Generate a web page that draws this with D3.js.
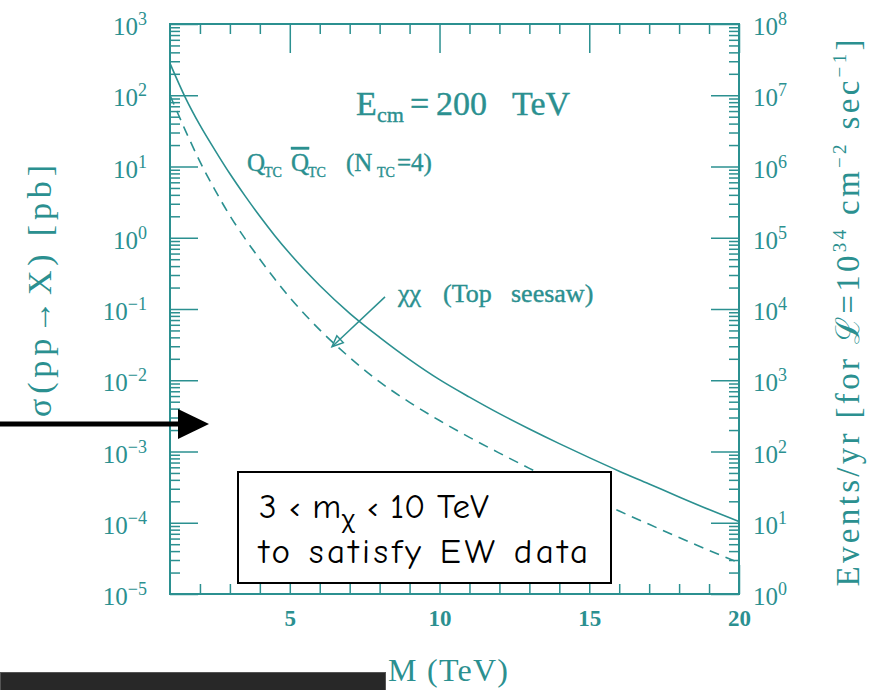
<!DOCTYPE html>
<html>
<head>
<meta charset="utf-8">
<script src="https://cdn.jsdelivr.net/npm/d3@7"></script>
<style>
  body { margin: 0; background: #fff; }
  svg { display: block; }
</style>
</head>
<body>
<div id="chart"></div>
<script>
// resonance mass M in TeV
const mass = [1, 1.5, 2, 2.5, 3, 3.5, 4, 4.5, 5, 6, 7, 8, 9, 10, 11, 12, 13, 14, 15, 16, 17, 18, 19, 20];
// sigma(pp -> X) in pb, Q_TC Qbar_TC (N_TC = 4), solid
const sigma_qtc = [280, 95, 38, 17, 7.9, 3.9, 2.0, 1.07, 0.60, 0.214, 0.087, 0.040, 0.0195, 0.0102, 0.0058,
  0.0034, 0.00207, 0.00129, 0.00082, 0.00053, 0.00035, 0.00023, 0.000153, 0.000104];
// sigma(pp -> X) in pb, chi chi (top seesaw), dashed
const sigma_chi = [100, 33, 11.7, 4.7, 2.04, 0.98, 0.50, 0.263, 0.145, 0.051, 0.0209, 0.0095, 0.0049, 0.00272,
  0.00158, 0.00095, 0.00058, 0.00036, 0.00023, 0.000146, 0.000095, 0.000062, 0.000041, 0.0000275];
const x_major_ticks = [5, 10, 15, 20];
const x_minor_ticks = [2, 3, 4, 6, 7, 8, 9, 11, 12, 13, 14, 16, 17, 18, 19];
const left_exponents = [-5, -4, -3, -2, -1, 0, 1, 2, 3];
const right_exponents = [0, 1, 2, 3, 4, 5, 6, 7, 8];

function XsecPlotter() {
  this._left = 170;
  this._top = 24;
  this._right = 739;
  this._bottom = 594;
  this._major_len = 28;
  this._minor_len = 10;
  this._ink = '#2b9090';
  this._serif = '"Liberation Serif", "Times New Roman", serif';
}

XsecPlotter.prototype._minor_values = function(exps) {
  let out = [];
  for(let e of exps.slice(0, -1)) {
    for(let m = 2; m < 10; m++) {
      out.push(m * Math.pow(10, e));
    }
  }
  return out;
}

XsecPlotter.prototype._power_labels = function(g, anchor) {
  let self = this;
  g.selectAll('.tick text').each(function(d) {
    let t = d3.select(this);
    let e = Math.round(Math.log10(d));
    t.text(null)
      .attr('fill', self._ink)
      .attr('font-family', self._serif)
      .attr('font-size', '25px')
      .attr('text-anchor', anchor)
      .attr('dy', '0.42em');
    t.append('tspan').text('10');
    t.append('tspan')
      .attr('dy', '-0.55em')
      .attr('font-size', '18px')
      .text(e < 0 ? '\u2212' + (-e) : String(e));
  });
}

XsecPlotter.prototype._style_ticks = function(g) {
  g.select('.domain').remove();
  g.selectAll('.tick line').attr('stroke', this._ink).attr('stroke-width', 1.5);
}

XsecPlotter.prototype._axes = function(svg, x, yl, yr) {
  let pow = e => Math.pow(10, e);

  let gl = svg.append('g').attr('transform', 'translate(' + this._left + ',0)')
    .call(d3.axisLeft(yl).tickValues(left_exponents.map(pow)).tickSizeInner(-this._major_len).tickSizeOuter(0).tickPadding(23));
  this._style_ticks(gl);
  this._power_labels(gl, 'end');
  let gl2 = svg.append('g').attr('transform', 'translate(' + this._left + ',0)')
    .call(d3.axisLeft(yl).tickValues(this._minor_values(left_exponents)).tickSizeInner(-this._minor_len).tickSizeOuter(0).tickFormat(''));
  this._style_ticks(gl2);

  let gr = svg.append('g').attr('transform', 'translate(' + this._right + ',0)')
    .call(d3.axisRight(yr).tickValues(right_exponents.map(pow)).tickSizeInner(-this._major_len).tickSizeOuter(0).tickPadding(14));
  this._style_ticks(gr);
  this._power_labels(gr, 'start');
  let gr2 = svg.append('g').attr('transform', 'translate(' + this._right + ',0)')
    .call(d3.axisRight(yr).tickValues(this._minor_values(right_exponents)).tickSizeInner(-this._minor_len).tickSizeOuter(0).tickFormat(''));
  this._style_ticks(gr2);

  let gb = svg.append('g').attr('transform', 'translate(0,' + this._bottom + ')')
    .call(d3.axisBottom(x).tickValues(x_major_ticks).tickSizeInner(-this._major_len - 1).tickSizeOuter(0).tickPadding(16));
  this._style_ticks(gb);
  gb.selectAll('.tick text')
    .attr('fill', this._ink)
    .attr('font-family', this._serif)
    .attr('font-weight', 'bold')
    .attr('font-size', '23px');
  let gb2 = svg.append('g').attr('transform', 'translate(0,' + this._bottom + ')')
    .call(d3.axisBottom(x).tickValues(x_minor_ticks).tickSizeInner(-this._minor_len).tickSizeOuter(0).tickFormat(''));
  this._style_ticks(gb2);

  let gt = svg.append('g').attr('transform', 'translate(0,' + this._top + ')')
    .call(d3.axisTop(x).tickValues(x_major_ticks).tickSizeInner(-this._major_len - 1).tickSizeOuter(0).tickFormat(''));
  this._style_ticks(gt);
  let gt2 = svg.append('g').attr('transform', 'translate(0,' + this._top + ')')
    .call(d3.axisTop(x).tickValues(x_minor_ticks).tickSizeInner(-this._minor_len).tickSizeOuter(0).tickFormat(''));
  this._style_ticks(gt2);

  svg.append('rect')
    .attr('x', this._left).attr('y', this._top)
    .attr('width', this._right - this._left).attr('height', this._bottom - this._top)
    .attr('fill', 'none').attr('stroke', this._ink).attr('stroke-width', 2);
}

XsecPlotter.prototype._curves = function(svg, x, yl) {
  let line = d3.line()
    .x((d, i) => x(mass[i]))
    .y(d => yl(d))
    .curve(d3.curveMonotoneX);

  svg.append('path').datum(sigma_qtc)
    .attr('d', line).attr('fill', 'none')
    .attr('stroke', this._ink).attr('stroke-width', 1.6);
  svg.append('path').datum(sigma_chi)
    .attr('d', line).attr('fill', 'none')
    .attr('stroke', this._ink).attr('stroke-width', 1.6)
    .attr('stroke-dasharray', '10,7');
}

// text made of pieces placed at given x, with optional subscript shift
XsecPlotter.prototype._pieces = function(svg, y, size, parts) {
  let t = svg.append('text')
    .attr('y', y).attr('fill', this._ink)
    .attr('stroke', this._ink).attr('stroke-width', 0.4)
    .attr('font-family', this._serif).attr('font-size', size + 'px');
  for(let p of parts) {
    let s = t.append('tspan').attr('x', p.x).attr('y', y + (p.dy || 0)).text(p.t);
    if(p.size) s.attr('font-size', p.size + 'px');
    if(p.over) s.attr('text-decoration', 'overline');
  }
  return t;
}

XsecPlotter.prototype._labels = function(svg, x, yl) {
  let ink = this._ink;
  let serif = this._serif;

  svg.append('text')
    .attr('transform', 'translate(51,291) rotate(-90)')
    .attr('text-anchor', 'middle').attr('fill', ink)
    .attr('font-family', serif).attr('font-size', '34px')
    .attr('textLength', 252).attr('lengthAdjust', 'spacing')
    .text('\u03c3(pp\u2192X) [pb]');

  let rt = svg.append('text')
    .attr('transform', 'translate(859,313) rotate(-90)')
    .attr('text-anchor', 'middle').attr('fill', ink)
    .attr('font-family', serif).attr('font-size', '33px')
    .attr('textLength', 547).attr('lengthAdjust', 'spacing');
  rt.append('tspan').text('Events/yr [for \u2112=10');
  rt.append('tspan').attr('dy', -13).attr('font-size', '19px').text('34');
  rt.append('tspan').attr('dy', 13).text(' cm');
  rt.append('tspan').attr('dy', -13).attr('font-size', '19px').text('\u22122');
  rt.append('tspan').attr('dy', 13).text(' sec');
  rt.append('tspan').attr('dy', -13).attr('font-size', '19px').text('\u22121');
  rt.append('tspan').attr('dy', 13).text(']');

  svg.append('text')
    .attr('x', 448).attr('y', 681)
    .attr('text-anchor', 'middle').attr('fill', ink)
    .attr('font-family', serif).attr('font-size', '32px')
    .attr('textLength', 120).attr('lengthAdjust', 'spacing')
    .text('M (TeV)');

  this._pieces(svg, 115, 34, [
    {x: 356, t: 'E'},
    {x: 377, t: 'cm', size: 22, dy: 7},
    {x: 410, t: '='},
    {x: 436, t: '200'},
    {x: 512, t: 'TeV'}
  ]);

  this._pieces(svg, 171, 25, [
    {x: 247, t: 'Q'},
    {x: 264, t: 'TC', size: 14, dy: 6},
    {x: 291, t: 'Q', over: true},
    {x: 308, t: 'TC', size: 14, dy: 6},
    {x: 346, t: '(N'},
    {x: 377, t: 'TC', size: 14, dy: 6},
    {x: 397, t: '=4)'}
  ]);

  this._pieces(svg, 302, 26, [
    {x: 398, t: '\u03c7\u03c7'},
    {x: 443, t: '(Top'},
    {x: 511, t: 'seesaw)'}
  ]);

  // pointer from the chi chi label down to the dashed curve
  let p0 = [x(8.18), yl(0.148)];
  let p1 = [x(6.41), yl(0.0295)];
  svg.append('line')
    .attr('x1', p0[0]).attr('y1', p0[1]).attr('x2', p1[0]).attr('y2', p1[1])
    .attr('stroke', ink).attr('stroke-width', 1.5);
  let ang = Math.atan2(p1[1] - p0[1], p1[0] - p0[0]);
  let hl = 12, hw = 0.4;
  svg.append('path')
    .attr('d', 'M' + (p1[0] - hl * Math.cos(ang - hw)) + ',' + (p1[1] - hl * Math.sin(ang - hw)) +
      'L' + p1[0] + ',' + p1[1] +
      'L' + (p1[0] - hl * Math.cos(ang + hw)) + ',' + (p1[1] - hl * Math.sin(ang + hw)) + 'Z')
    .attr('fill', 'none').attr('stroke', ink).attr('stroke-width', 1.5);
}

XsecPlotter.prototype._overlay = function(svg) {
  // big black arrow
  svg.append('line')
    .attr('x1', 0).attr('y1', 424).attr('x2', 180).attr('y2', 424)
    .attr('stroke', '#000').attr('stroke-width', 5);
  svg.append('path')
    .attr('d', 'M178,409L209,424L178,439Z')
    .attr('fill', '#000');

  // note box
  svg.append('rect')
    .attr('x', 238).attr('y', 472).attr('width', 373).attr('height', 111)
    .attr('fill', '#fff').attr('stroke', '#000').attr('stroke-width', 2);
  let font = '"Comic Sans MS", "Comic Neue", "Noto Sans", sans-serif';
  let t1 = svg.append('text')
    .attr('x', 259).attr('y', 518).attr('fill', '#000')
    .attr('font-family', font).attr('font-size', '35px');
  t1.append('tspan').text('3 \u2039 m');
  t1.append('tspan').attr('dy', 9).attr('font-size', '23px').text('\u03c7');
  t1.append('tspan').attr('dy', -9).text(' \u2039 10 TeV');
  svg.append('text')
    .attr('x', 259).attr('y', 563).attr('fill', '#000')
    .attr('font-family', font).attr('font-size', '35px')
    .attr('textLength', 329).attr('lengthAdjust', 'spacing')
    .text('to satisfy EW data');

  // dark bar at the bottom left
  svg.append('rect')
    .attr('x', 0.5).attr('y', 672.5).attr('width', 385).attr('height', 20)
    .attr('fill', '#282828').attr('stroke', '#555').attr('stroke-width', 1);
}

XsecPlotter.prototype.plot = function(container) {
  let svg = d3.select(container).append('svg')
    .attr('width', 885)
    .attr('height', 690);

  let x = d3.scaleLinear().domain([1, 20]).range([this._left, this._right]);
  let yl = d3.scaleLog().domain([1e-5, 1e3]).range([this._bottom, this._top]);
  let yr = d3.scaleLog().domain([1, 1e8]).range([this._bottom, this._top]);

  this._axes(svg, x, yl, yr);
  this._curves(svg, x, yl);
  this._labels(svg, x, yl);
  this._overlay(svg);
}

new XsecPlotter().plot('#chart');
</script>
</body>
</html>
